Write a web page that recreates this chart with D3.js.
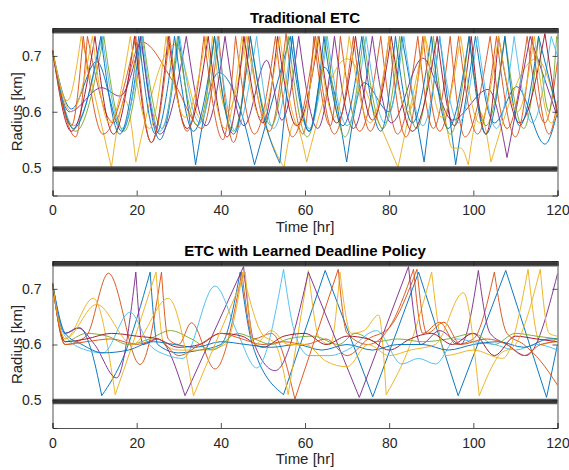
<!DOCTYPE html>
<html>
<head>
<meta charset="utf-8">
<script src="https://cdn.jsdelivr.net/npm/d3@7"></script>
<style>
  body { margin: 0; background: #fff; }
  svg { font-family: "Liberation Sans", Arial, sans-serif; }
  .tick-label { font-size: 14px; fill: #262626; }
  .axis-title { font-size: 15px; fill: #262626; }
  .chart-title { font-size: 15px; font-weight: bold; fill: #000; }
</style>
</head>
<body>
<svg id="fig"></svg>
<script>
// ---- data (time [hr], radius [km]) ----
const xTicks = [0, 20, 40, 60, 80, 100, 120];
const yTicks = [0.5, 0.6, 0.7];
const bounds = [0.4975, 0.745];

// Traditional ETC
const tradBlue = [[0,.71],[4.5,.605],[10.5,.69],[16.5,.565],[21,.735],[25.5,.55],[30,.735],[34,.505],[39.5,.67],[45,.595],[48,.505],[56.5,.735],[61,.565],[64.5,.68],[69.9,.51],[74,.652],[80,.6],[83,.735],[88.3,.51],[92,.735],[95.8,.505],[100.5,.735],[105,.58],[110.3,.645],[117,.542],[120,.6]];
const tradOrange = [[0,.71],[5.5,.555],[8.3,.735],[14.5,.58],[21.2,.725],[29,.65],[35.5,.57],[39.5,.735],[43,.545],[46.5,.735],[51.5,.565],[55.5,.74],[59.5,.56],[62.1,.735],[66,.575],[68.4,.735],[73,.565],[78,.735],[82,.56],[86.8,.735],[90.5,.57],[94.5,.735],[98,.555],[104,.735],[108,.57],[112.8,.735],[117,.58],[120,.69]];
const tradYellow = [[0,.71],[3.5,.62],[6.8,.735],[14,.5],[17.3,.62],[19.8,.51],[29.1,.72],[35.5,.585],[38,.735],[41.5,.6],[46,.735],[49,.62],[55,.5],[57.5,.58],[60.4,.51],[70,.695],[77,.59],[82.1,.5],[88.5,.735],[93,.6],[95,.535],[97,.535],[98.8,.505],[101.5,.6],[104.2,.51],[115,.695],[120,.6]];
const tradPurple = [[0,.71],[4,.6],[11.7,.643],[16,.628],[21,.735],[25.5,.56],[31.8,.735],[36.5,.575],[41,.735],[45.5,.575],[50.9,.692],[54.5,.585],[58.5,.735],[63,.57],[67,.735],[71.5,.57],[76,.735],[80.5,.58],[88,.696],[95,.585],[103.5,.64],[108,.518],[113.5,.735],[120,.59]];
const tradGreen = [[0,.71],[5.5,.565],[12.2,.735],[17,.565],[21.5,.735],[26,.57],[29.7,.735],[34.5,.575],[38.5,.735],[43,.565],[47,.735],[52,.575],[56,.735],[60.5,.555],[65,.735],[69.5,.555],[73.9,.735],[78.5,.57],[82.5,.735],[86.5,.57],[90.5,.735],[94.5,.56],[99,.735],[103,.575],[107.5,.735],[112,.57],[115.5,.735],[118,.6],[119.8,.735],[120,.73]];
const tradLightBlue = [[0,.71],[5,.575],[11.8,.735],[16.5,.57],[21.3,.735],[25.5,.565],[30.2,.735],[35,.58],[39.2,.735],[43.5,.565],[48.5,.735],[52.5,.57],[57,.735],[61,.57],[65.3,.735],[70,.575],[74.5,.735],[79,.58],[83.5,.735],[88,.575],[92,.735],[96.5,.58],[101,.735],[105.5,.57],[109.7,.735],[114,.58],[118.5,.735],[120,.7]];
const tradDarkRed = [[0,.71],[4.5,.565],[10.1,.735],[14.5,.56],[19.5,.735],[23.5,.545],[27.5,.735],[32,.57],[37,.735],[41.5,.555],[45.5,.735],[50,.58],[53.5,.735],[58,.575],[63.3,.735],[67.5,.58],[72,.735],[76,.585],[80.5,.735],[85.5,.565],[91.4,.735],[95.5,.575],[99.5,.735],[103,.56],[106,.735],[111,.58],[117,.74],[120,.59]];
const tradBlue2 = [[0,.71],[5,.57],[11.5,.735],[16,.56],[20.5,.735],[24.5,.56],[29,.735],[33.5,.565],[38.5,.735],[43,.56],[47,.735],[50,.6],[54,.508],[57,.735],[61,.565],[64.5,.735],[69,.575],[73.5,.735],[78,.565],[81.5,.735],[85.5,.58],[90,.735],[94,.57],[99,.735],[103,.56],[107.5,.735],[111,.575],[115.5,.735],[120,.6]];
const tradOrange2 = [[0,.71],[4.5,.575],[7.3,.735],[12,.56],[19.8,.735],[23.5,.545],[27.8,.735],[32,.565],[36,.735],[40.5,.55],[43.5,.735],[48,.56],[53,.735],[57,.555],[62.5,.735],[67,.56],[71.5,.735],[75.5,.565],[80,.735],[84,.555],[88,.735],[92,.565],[96.5,.735],[101,.56],[105.5,.735],[110,.555],[114,.735],[118,.56],[120,.62]];
const tradYellow2 = [[0,.71],[4.5,.6],[9.5,.735],[13.5,.58],[18.5,.735],[23,.57],[27,.735],[31.5,.59],[36.5,.735],[41,.57],[45,.735],[49.5,.59],[54,.735],[58.5,.575],[63,.735],[67,.59],[70.5,.735],[75.5,.58],[80,.735],[84.5,.6],[88.5,.735],[92.5,.59],[97,.735],[101.5,.58],[106,.735],[110.5,.6],[114.5,.735],[118.5,.58],[120,.6]];

// ETC with Learned Deadline Policy
const learnBlue = [[0,.71],[3,.62],[6.5,.63],[9,.595],[11.7,.508],[17,.58],[23.2,.73],[25,.6],[30,.585],[35,.59],[40,.6],[44.6,.73],[47.5,.6],[54.9,.51],[64.8,.733],[76.1,.506],[87,.73],[96.4,.508],[107.7,.733],[117.4,.505],[120,.6]];
const learnOrange = [[0,.71],[3,.6],[8,.615],[13.3,.728],[20.8,.564],[25.9,.73],[27.5,.61],[30,.6],[33,.639],[38.6,.556],[45,.73],[47.8,.61],[52,.62],[57.6,.502],[67.9,.735],[70,.62],[75,.6],[80,.63],[85.8,.735],[88,.62],[92,.64],[96,.6],[100,.61],[105,.73],[108,.62],[112,.6],[116,.57],[120,.527]];
const learnYellow = [[0,.71],[3,.61],[9.7,.683],[14.9,.51],[19,.6],[24.6,.73],[26.5,.6],[30,.59],[36,.59],[41,.6],[45.2,.73],[49.7,.62],[53,.6],[56,.51],[60.8,.733],[63.5,.61],[66,.6],[68.3,.73],[71,.62],[74,.625],[77.5,.653],[79.3,.51],[85,.6],[90.1,.73],[93.5,.58],[100,.59],[107,.575],[113,.735],[116,.6],[120,.61]];
const learnPurple = [[0,.71],[3,.62],[6,.63],[10,.6],[15.2,.54],[19.8,.73],[21.5,.6],[25,.61],[31.5,.508],[45.4,.74],[48,.6],[52.9,.553],[60.8,.73],[72.9,.505],[84.6,.74],[87.5,.6],[92,.625],[97,.6],[101.2,.733],[104,.62],[108,.6],[112.5,.58],[120,.727]];
const learnGreen = [[0,.71],[3,.605],[8,.62],[13,.615],[18,.6],[23,.61],[28,.625],[33,.61],[38,.59],[44,.62],[48,.61],[52,.6],[56,.61],[62,.615],[68,.6],[72,.62],[77,.605],[82,.61],[88,.605],[94,.61],[100,.62],[105,.6],[110,.62],[115,.615],[120,.61]];
const learnLightBlue = [[0,.71],[3,.615],[8,.59],[12,.585],[18.4,.658],[23,.6],[27.5,.58],[31,.575],[38.6,.705],[44,.62],[48.5,.558],[54.9,.735],[57.6,.62],[61,.58],[66,.58],[70,.59],[77,.625],[83,.565],[87,.575],[91,.565],[96,.61],[100,.605],[105,.6],[110,.59],[115,.6],[120,.59]];
const learnDarkRed = [[0,.71],[3,.605],[8,.61],[14,.62],[20,.615],[25,.61],[30,.595],[35,.6],[40,.62],[45,.615],[50,.595],[55,.615],[60,.62],[65,.6],[70,.615],[75,.61],[80,.59],[85,.61],[90,.62],[95,.6],[100,.62],[105,.58],[110,.615],[115,.61],[120,.605]];
const learnBlue2 = [[0,.71],[3,.62],[7,.6],[12,.585],[18,.59],[24,.605],[29,.6],[34,.595],[40,.605],[46,.6],[52,.595],[58,.6],[64,.59],[70,.6],[76,.59],[82,.6],[88,.6],[94,.59],[100,.6],[106,.605],[112,.595],[118,.61],[120,.61]];
const learnOrange2 = [[0,.71],[3,.6],[8,.605],[14,.61],[20,.6],[25,.61],[30,.58],[35,.6],[40,.62],[45,.61],[50,.6],[55,.605],[60,.6],[65,.61],[70,.58],[75,.61],[80,.63],[86.6,.735],[89,.62],[93,.64],[97,.6],[103,.61],[108,.6],[112,.58],[116,.6],[120,.605]];
const learnYellow2 = [[0,.71],[3,.61],[10.5,.672],[19,.6],[27.5,.683],[33.5,.508],[45.8,.73],[48,.6],[52,.625],[56,.6],[60,.6],[65,.57],[70,.56],[75,.6],[80,.58],[85,.59],[91,.6],[97.6,.693],[101.4,.508],[106,.58],[110,.6],[115.9,.735],[118,.62],[120,.615]];

const tradSeries = [tradBlue, tradOrange, tradYellow, tradPurple, tradGreen, tradLightBlue, tradDarkRed, tradBlue2, tradOrange2, tradYellow2];
const learnSeries = [learnBlue, learnOrange, learnYellow, learnPurple, learnGreen, learnLightBlue, learnDarkRed, learnBlue2, learnOrange2, learnYellow2];

// MATLAB default line colours
const colors = ['#0072BD', '#D95319', '#EDB120', '#7E2F8E', '#77AC30', '#4DBEEE', '#A2142F'];

class RadiusPlot {
  constructor(_config, _series) {
    this.config = _config;
    this.series = _series;
    this.initVis();
  }

  initVis() {
    let vis = this;
    const c = vis.config;

    vis.xScale = d3.scaleLinear().domain([0, 120]).range([c.left, c.right]);
    vis.yScale = d3.scaleLinear().domain([0.45, 0.75]).range([c.bottom, c.top]);

    vis.g = c.svg.append('g');

    // clip lines to the axes box
    vis.g.append('clipPath').attr('id', c.id + '-clip')
      .append('rect')
      .attr('x', c.left).attr('y', c.top)
      .attr('width', c.right - c.left).attr('height', c.bottom - c.top);

    vis.plotArea = vis.g.append('g').attr('clip-path', `url(#${c.id}-clip)`);

    // split a series at sharp peaks / troughs so the smooth curve keeps the corners
    const sharp = r => r >= 0.73 || r <= 0.52;
    const line = d3.line()
      .x(d => vis.xScale(d[0]))
      .y(d => vis.yScale(d[1]))
      .curve(d3.curveMonotoneX);

    vis.series.forEach((pts, i) => {
      const segs = [];
      let cur = [pts[0]];
      for (let k = 1; k < pts.length; k++) {
        cur.push(pts[k]);
        if (k < pts.length - 1 && sharp(pts[k][1])) {
          segs.push(cur);
          cur = [pts[k]];
        }
      }
      segs.push(cur);
      vis.plotArea.append('path')
        .attr('d', segs.map(s => line(s)).join(''))
        .attr('fill', 'none')
        .attr('stroke', colors[i % colors.length])
        .attr('stroke-width', 0.95)
        .attr('stroke-linejoin', 'round');
    });

    // constraint bands
    bounds.forEach(b => {
      vis.plotArea.append('line')
        .attr('x1', c.left).attr('x2', c.right)
        .attr('y1', vis.yScale(b)).attr('y2', vis.yScale(b))
        .attr('stroke', '#5a5a5a').attr('stroke-width', 5.5);
      vis.plotArea.append('line')
        .attr('x1', c.left).attr('x2', c.right)
        .attr('y1', vis.yScale(b)).attr('y2', vis.yScale(b))
        .attr('stroke', '#363636').attr('stroke-width', 3);
    });

    // axes box with inward ticks on all sides
    const tickLen = 5;
    const axisCol = '#262626';
    const axisBottom = d3.axisBottom(vis.xScale).tickValues(xTicks).tickSize(-tickLen).tickPadding(10).tickFormat(d3.format('d'));
    const axisTop = d3.axisTop(vis.xScale).tickValues(xTicks).tickSize(-tickLen).tickFormat('');
    const axisLeft = d3.axisLeft(vis.yScale).tickValues(yTicks).tickSize(-tickLen).tickPadding(11).tickFormat(d3.format('.1f'));
    const axisRight = d3.axisRight(vis.yScale).tickValues(yTicks).tickSize(-tickLen).tickFormat('');

    const styleAxis = sel => {
      sel.selectAll('path').attr('stroke', axisCol).attr('stroke-width', 0.8);
      sel.selectAll('line').attr('stroke', axisCol).attr('stroke-width', 0.8);
      sel.selectAll('text').attr('class', 'tick-label').attr('font-size', null).attr('font-family', null);
    };

    vis.g.append('g').attr('transform', `translate(0,${c.bottom})`).call(axisBottom).call(styleAxis);
    vis.g.append('g').attr('transform', `translate(0,${c.top})`).call(axisTop).call(styleAxis);
    vis.g.append('g').attr('transform', `translate(${c.left},0)`).call(axisLeft).call(styleAxis);
    vis.g.append('g').attr('transform', `translate(${c.right},0)`).call(axisRight).call(styleAxis);
    vis.g.selectAll('.domain').attr('fill', 'none');

    // titles
    const midX = (c.left + c.right) / 2;
    vis.g.append('text')
      .attr('class', 'chart-title')
      .attr('x', midX).attr('y', c.top - 5)
      .attr('text-anchor', 'middle')
      .text(c.title);

    vis.g.append('text')
      .attr('class', 'axis-title')
      .attr('x', midX).attr('y', c.bottom + 36)
      .attr('text-anchor', 'middle')
      .text('Time [hr]');

    vis.g.append('text')
      .attr('class', 'axis-title')
      .attr('transform', `translate(22,${(c.top + c.bottom) / 2}) rotate(-90)`)
      .attr('text-anchor', 'middle')
      .text('Radius [km]');
  }
}

const svg = d3.select('#fig').attr('width', 569).attr('height', 470);

new RadiusPlot({ svg, id: 'top', left: 52.5, right: 557.5, top: 28, bottom: 195.5, title: 'Traditional ETC' }, tradSeries);
new RadiusPlot({ svg, id: 'bot', left: 52.5, right: 557.5, top: 261, bottom: 428, title: 'ETC with Learned Deadline Policy' }, learnSeries);
</script>
</body>
</html>
